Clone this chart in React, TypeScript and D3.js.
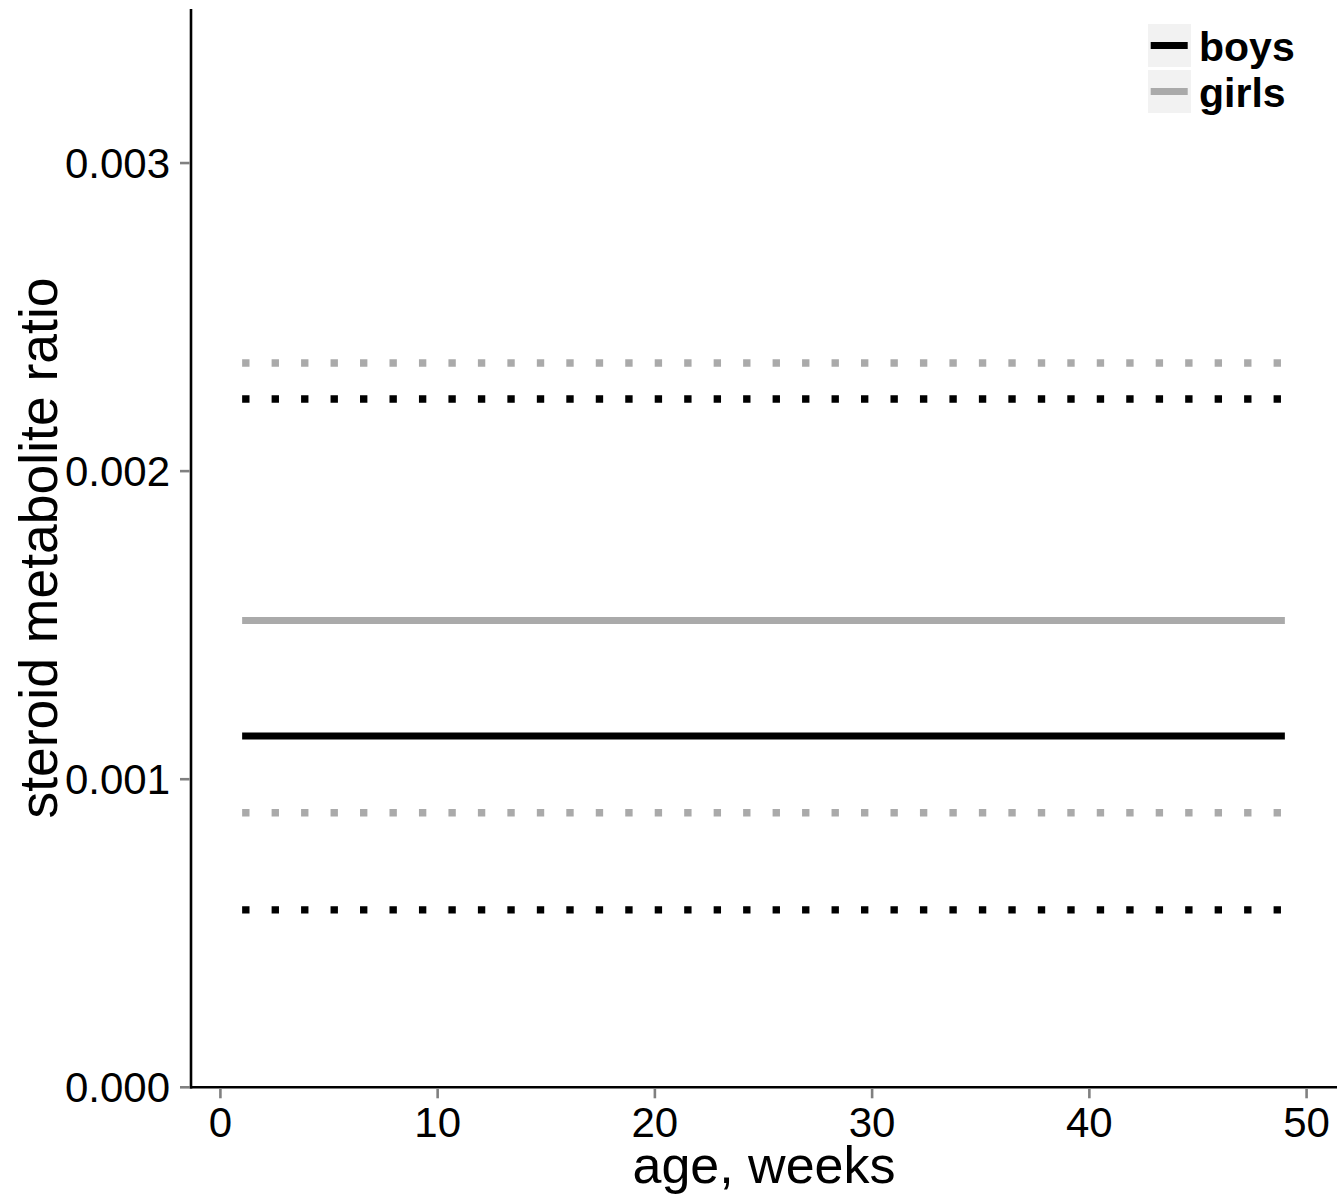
import React from "react";
import * as d3 from "d3";

const categories = ["boys", "girls"];
const seriesColors = ["#000000", "#aaaaaa"];
const ageRange = [1, 49];
const meanValues = [0.00114, 0.001515];
const lowerValues = [0.000576, 0.000891];
const upperValues = [0.002234, 0.002351];
const xTicks = [0, 10, 20, 30, 40, 50];
const yTicks = [0, 0.001, 0.002, 0.003];
const yTickLabels = ["0.000", "0.001", "0.002", "0.003"];

const W = 1339;
const H = 1202;
const FONT = "'Liberation Sans', Arial, Helvetica, sans-serif";

export default function App() {
  const x = d3.scaleLinear().domain([-1.4, 51.4]).range([190, 1337]);
  const y = d3.scaleLinear().domain([0, 0.0035]).range([1087.3, 9]);
  const line = d3
    .line<[number, number]>()
    .x((d) => x(d[0]))
    .y((d) => y(d[1]));

  const seg = (v: number) => line([[ageRange[0], v], [ageRange[1], v]]) || "";
  const dash = "7.37 22.1";

  return (
    <svg
      width={W}
      height={H}
      style={{ position: "absolute", left: 0, top: 0, background: "#fff" }}
      fontFamily={FONT}
    >
      <rect x={0} y={0} width={W} height={H} fill="#fff" />
      {/* dotted bounds */}
      {categories.map((c, i) => (
        <g key={"b" + c}>
          <path d={seg(upperValues[i])} stroke={seriesColors[i]} strokeWidth={7.37} strokeDasharray={dash} fill="none" />
          <path d={seg(lowerValues[i])} stroke={seriesColors[i]} strokeWidth={7.37} strokeDasharray={dash} fill="none" />
        </g>
      ))}
      {/* mean lines */}
      {categories.map((c, i) => (
        <path key={"m" + c} d={seg(meanValues[i])} stroke={seriesColors[i]} strokeWidth={7} fill="none" />
      ))}
      {/* axes */}
      <line x1={191} x2={191} y1={9} y2={1088.5} stroke="#000" strokeWidth={2.6} />
      <line x1={189.7} x2={1337} y1={1087.3} y2={1087.3} stroke="#000" strokeWidth={2.6} />
      {yTicks.map((t, i) => (
        <g key={"yt" + i}>
          <line x1={180} x2={189.7} y1={y(t)} y2={y(t)} stroke="#808080" strokeWidth={2.6} />
          <text x={170} y={y(t) + 15} textAnchor="end" fontSize={42} fill="#000">
            {yTickLabels[i]}
          </text>
        </g>
      ))}
      {xTicks.map((t) => (
        <g key={"xt" + t}>
          <line x1={x(t)} x2={x(t)} y1={1088.6} y2={1098.3} stroke="#808080" strokeWidth={2.6} />
          <text x={x(t)} y={1137} textAnchor="middle" fontSize={42} fill="#000">
            {t}
          </text>
        </g>
      ))}
      <text x={764} y={1183} textAnchor="middle" fontSize={52} fill="#000">
        age, weeks
      </text>
      <text transform={`translate(57,548) rotate(-90)`} textAnchor="middle" fontSize={53.5} fill="#000">
        steroid metabolite ratio
      </text>
      {/* legend */}
      {categories.map((c, i) => {
        const top = 24 + i * 46;
        const cy = top + 21.5;
        return (
          <g key={"lg" + c}>
            <rect x={1148} y={top} width={43} height={43} fill="#f2f2f2" />
            <line x1={1150.7} x2={1187.7} y1={cy} y2={cy} stroke={seriesColors[i]} strokeWidth={7} />
            <text x={1199} y={cy + 15} fontSize={41} fontWeight="bold" fill="#000">
              {c}
            </text>
          </g>
        );
      })}
    </svg>
  );
}
